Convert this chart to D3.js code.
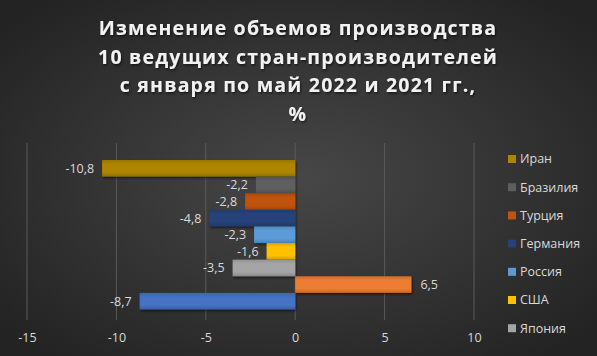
<!DOCTYPE html>
<html><head><meta charset="utf-8">
<script src="https://cdn.jsdelivr.net/npm/d3@7"></script>
<style>body{margin:0;background:#333}svg{display:block}</style>
</head><body>
<svg id="chart" width="597" height="356"></svg>
<script>
const titleLines = ["Изменение объемов производства","10 ведущих стран-производителей","с января по май 2022 и 2021 гг.,","%"];
const countries = ["Иран","Бразилия","Турция","Германия","Россия","США","Япония","Индия","Китай"];
const values = [-10.8,-2.2,-2.8,-4.8,-2.3,-1.6,-3.5,6.5,-8.7];
const colors = ["#AD8500","#5E5E5E","#BF530F","#25437A","#5B9BD5","#FFC000","#A5A5A5","#ED7D31","#4472C4"];
const xTicks = [-15,-10,-5,0,5,10];
const legendShown = 7; // the reference legend is cut off after Япония

const svg = d3.select("#chart");
const W = 597, H = 356;
const defs = svg.append("defs");
const rg = defs.append("radialGradient").attr("id","bg").attr("cx","50%").attr("cy","50%").attr("r","65%");
rg.append("stop").attr("offset","0%").attr("stop-color","#474747");
rg.append("stop").attr("offset","100%").attr("stop-color","#232323");
svg.append("rect").attr("width",W).attr("height",H).attr("fill","url(#bg)");

const sh = defs.append("filter").attr("id","sh").attr("x","-10%").attr("y","-30%").attr("width","130%").attr("height","170%");
sh.append("feDropShadow").attr("dx",1).attr("dy",1.5).attr("stdDeviation",1.2).attr("flood-color","#000").attr("flood-opacity",0.6);

const x = d3.scaleLinear().domain([-15,10]).range([27,474]);
const y = d3.scaleBand().domain(countries).range([160,309.5]).padding(0);

// gridlines
svg.append("g").selectAll("line").data(xTicks).join("line")
  .attr("x1",d=>x(d)).attr("x2",d=>x(d)).attr("y1",143).attr("y2",320)
  .attr("stroke","#5a5a5a").attr("stroke-width",1);

// bars
countries.forEach((c,i)=>{
  const g = defs.append("linearGradient").attr("id","g"+i).attr("x1",0).attr("x2",0).attr("y1",0).attr("y2",1);
  const base = d3.color(colors[i]);
  g.append("stop").attr("offset","0%").attr("stop-color",base.darker(0.35));
  g.append("stop").attr("offset","25%").attr("stop-color",base);
  g.append("stop").attr("offset","75%").attr("stop-color",base);
  g.append("stop").attr("offset","100%").attr("stop-color",base.darker(0.5));
});
svg.append("g").selectAll("rect").data(countries).join("rect")
  .attr("x",(d,i)=>Math.min(x(0),x(values[i])))
  .attr("width",(d,i)=>Math.abs(x(values[i])-x(0)))
  .attr("y",d=>y(d)).attr("height",y.bandwidth())
  .attr("fill",(d,i)=>"url(#g"+i+")")
  .attr("filter","url(#sh)");

// data labels
const fmt = v => String(v).replace(".",",");
svg.append("g").selectAll("text").data(countries).join("text")
  .attr("x",(d,i)=>values[i]<0 ? x(values[i])-8 : x(values[i])+9)
  .attr("y",d=>y(d)+y.bandwidth()/2)
  .attr("dy","0.35em")
  .attr("text-anchor",(d,i)=>values[i]<0?"end":"start")
  .attr("font-family","Open Sans, sans-serif").attr("font-size",12.5)
  .attr("fill","#d9d9d9")
  .text((d,i)=>fmt(values[i]));

// x axis
const ax = svg.append("g").attr("transform","translate(0,330)")
  .call(d3.axisBottom(x).tickValues(xTicks).tickSize(0).tickFormat(d=>d));
ax.select(".domain").remove();
ax.selectAll("text").attr("font-family","Open Sans, sans-serif").attr("font-size",12.5).attr("fill","#d9d9d9").attr("dy","0.75em");

// legend
const lg = svg.append("g").selectAll("g").data(countries.slice(0,legendShown)).join("g")
  .attr("transform",(d,i)=>`translate(508,${159+i*28.2})`);
lg.append("rect").attr("x",0).attr("y",-4).attr("width",8).attr("height",8).attr("fill",(d,i)=>colors[i]);
lg.append("text").attr("x",12).attr("y",0).attr("dy","0.35em")
  .attr("font-family","Open Sans, sans-serif").attr("font-size",12.5).attr("fill","#d9d9d9").text(d=>d);

// title
svg.append("g").selectAll("text").data(titleLines).join("text")
  .attr("x",298).attr("y",(d,i)=>35+i*28.5)
  .attr("text-anchor","middle")
  .attr("font-family","Open Sans, sans-serif").attr("font-weight","bold").attr("font-size",19.5)
  .attr("letter-spacing",1.2)
  .attr("fill","#f2f2f2").attr("filter","url(#sh)")
  .text(d=>d);
</script>
</body></html>
